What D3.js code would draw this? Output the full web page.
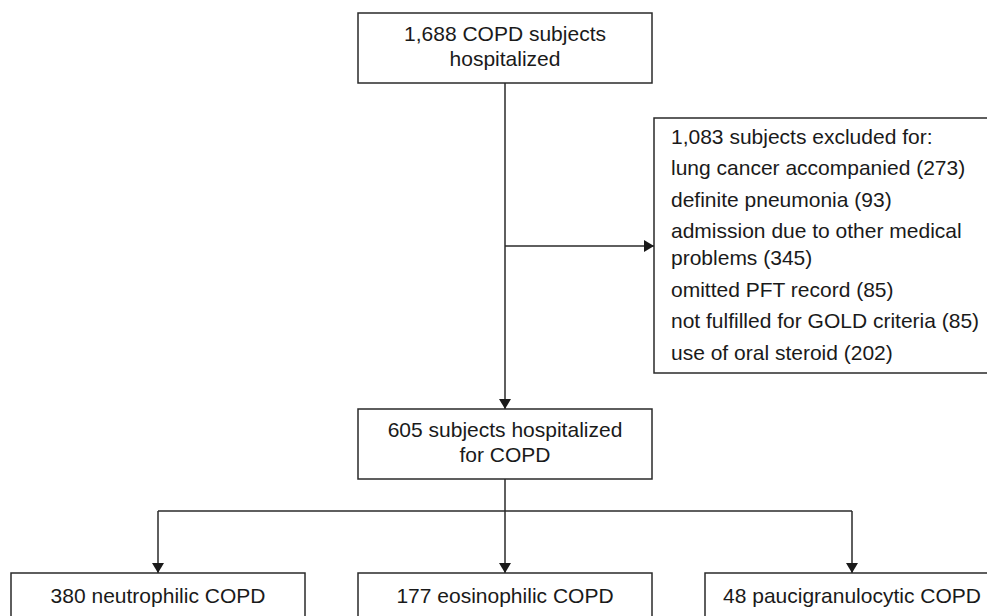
<!DOCTYPE html>
<html>
<head>
<meta charset="utf-8">
<script src="https://cdn.jsdelivr.net/npm/d3@7"></script>
<style>
  html, body { margin: 0; padding: 0; background: #fff; }
  svg { display: block; }
  text { font-family: "Liberation Sans", Arial, sans-serif; font-size: 21px; fill: #1a1a1a; }
</style>
</head>
<body>
<svg id="chart" width="987" height="616"></svg>
<script>
// ---- data ----
const topLabel = ["1,688 COPD subjects", "hospitalized"];
const exclusionTitle = "1,083 subjects excluded for:";
const exclusionItems = [
  ["lung cancer accompanied (273)"],
  ["definite pneumonia (93)"],
  ["admission due to other medical", "problems (345)"],
  ["omitted PFT record (85)"],
  ["not fulfilled for GOLD criteria (85)"],
  ["use of oral steroid (202)"]
];
const middleLabel = ["605 subjects hospitalized", "for COPD"];
const groups = ["380 neutrophilic COPD", "177 eosinophilic COPD", "48 paucigranulocytic COPD"];

// ---- layout ----
const svg = d3.select("#chart");
const stroke = "#2a2a2a";
const lw = 1.5;

const col = d3.scalePoint().domain(groups).range([158, 852]);
const boxW = 294, boxH = 70;
const cx = col(groups[1]);

const defs = svg.append("defs");
defs.append("marker")
  .attr("id", "arrow").attr("viewBox", "0 0 10 12")
  .attr("refX", 10).attr("refY", 6)
  .attr("markerWidth", 10).attr("markerHeight", 12)
  .attr("markerUnits", "userSpaceOnUse")
  .attr("orient", "auto")
  .append("path").attr("d", "M0,0 L10,6 L0,12 Z").attr("fill", "#1a1a1a");

function box(x0, y0, w, h) {
  svg.append("rect").attr("x", x0).attr("y", y0).attr("width", w).attr("height", h)
    .attr("fill", "#fff").attr("stroke", stroke).attr("stroke-width", lw);
}
function line(pts, arrow) {
  const p = svg.append("path").attr("d", d3.line()(pts))
    .attr("fill", "none").attr("stroke", stroke).attr("stroke-width", lw);
  if (arrow) p.attr("marker-end", "url(#arrow)");
}
function centeredLines(lines, x, y0) {
  svg.append("text").attr("text-anchor", "middle")
    .selectAll("tspan").data(lines).join("tspan")
    .attr("x", x).attr("y", (d, i) => y0 + i * 25).text(d => d);
}

// connectors
const topY = 13, midY = 409, exY = 118, exX = 654, botY = 573, branchY = 511;
line([[cx, topY + boxH], [cx, midY]], true);
line([[cx, 246], [exX, 246]], true);
line([[cx, midY + boxH], [cx, branchY]], false);
line([[col(groups[0]), branchY], [col(groups[2]), branchY]], false);
groups.forEach(g => line([[col(g), branchY], [col(g), botY]], true));

// top box
box(cx - boxW / 2, topY, boxW, boxH);
centeredLines(topLabel, cx, topY + 28);

// exclusion box
box(exX, exY, 345, 255);
const exText = svg.append("text").attr("text-anchor", "start");
const exLines = [{t: exclusionTitle, y: exY + 25.5}];
let yy = exY + 25.5;
exclusionItems.forEach(item => {
  item.forEach((t, j) => {
    yy += (j === 0) ? 31.5 : 27;
    exLines.push({t, y: yy});
  });
});
exText.selectAll("tspan").data(exLines).join("tspan")
  .attr("x", exX + 17).attr("y", d => d.y).text(d => d.t);

// middle box
box(cx - boxW / 2, midY, boxW, boxH);
centeredLines(middleLabel, cx, midY + 28);

// bottom boxes
groups.forEach(g => {
  box(col(g) - boxW / 2, botY, boxW, 62);
  centeredLines([g], col(g), botY + 30);
});
</script>
</body>
</html>
